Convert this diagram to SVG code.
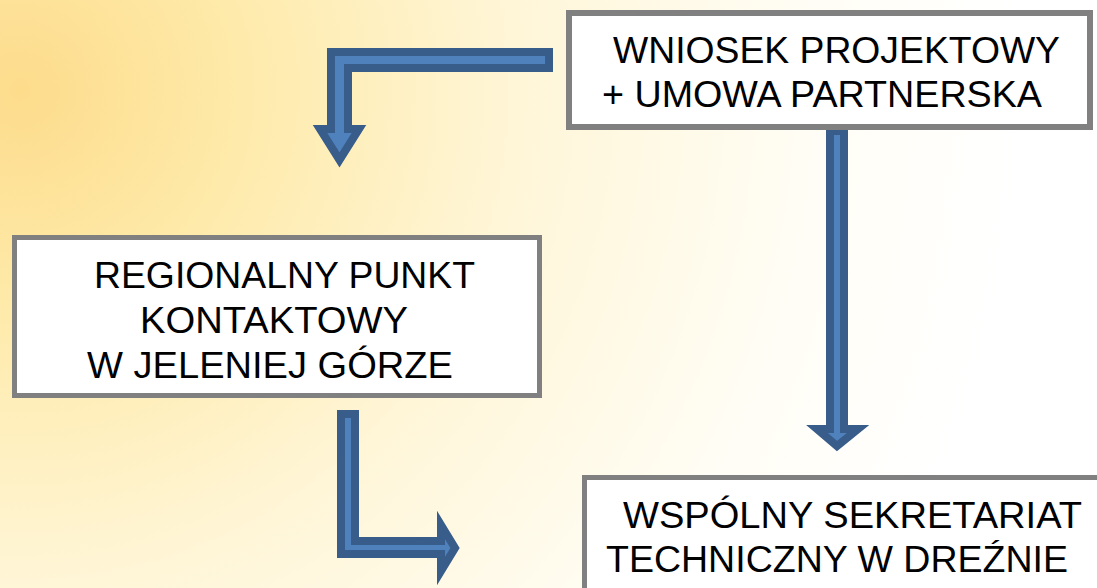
<svg xmlns="http://www.w3.org/2000/svg" width="1097" height="588" viewBox="0 0 1097 588">
  <defs>
    <radialGradient id="bg" cx="20" cy="90" r="1000" gradientUnits="userSpaceOnUse">
      <stop offset="0" stop-color="#fddc8c"/>
      <stop offset="0.22" stop-color="#feeaaa"/>
      <stop offset="0.5" stop-color="#fff6d8"/>
      <stop offset="0.78" stop-color="#fffdf4"/>
      <stop offset="1" stop-color="#ffffff"/>
    </radialGradient>
  </defs>
  <style>
    .box { fill: #ffffff; stroke: #808080; }
    .lbl { font-family: "Liberation Sans", Arial, sans-serif; font-size: 36px; fill: #000000; }
    .arr { fill: #4f81bd; stroke: #385d8a; stroke-width: 8; stroke-linejoin: miter; }
  </style>
  <rect x="0" y="0" width="1097" height="588" fill="url(#bg)"/>

  <g id="connectors">
    <path class="arr" d="M549,52 L331,52 L331,129 L320,129 L339.5,160 L359,129 L348,129 L348,68 L549,68 Z"/>
    <path class="arr" d="M830,131 L844,131 L844,429 L858,429 L837,446 L817,429 L830,429 Z"/>
    <path class="arr" d="M341,414 L355,414 L355,541 L441,541 L441,525 L455,548 L441,571 L441,554 L341,554 Z"/>
  </g>

  <g id="node-wniosek">
    <rect class="box" x="569" y="13" width="521" height="114" stroke-width="6"/>
    <text class="lbl" x="613" y="63" textLength="447" lengthAdjust="spacingAndGlyphs">WNIOSEK PROJEKTOWY</text>
    <text class="lbl" x="602" y="107" textLength="440" lengthAdjust="spacingAndGlyphs">+ UMOWA PARTNERSKA</text>
  </g>

  <g id="node-rpk">
    <rect class="box" x="14.5" y="237.5" width="525" height="158" stroke-width="5"/>
    <text class="lbl" x="94" y="288" textLength="381" lengthAdjust="spacingAndGlyphs">REGIONALNY PUNKT</text>
    <text class="lbl" x="140" y="333" textLength="268" lengthAdjust="spacingAndGlyphs">KONTAKTOWY</text>
    <text class="lbl" x="87" y="378" textLength="366" lengthAdjust="spacingAndGlyphs">W JELENIEJ GÓRZE</text>
  </g>

  <g id="node-wst">
    <rect class="box" x="584.5" y="477.5" width="520" height="120" stroke-width="5"/>
    <text class="lbl" x="623" y="528" textLength="459" lengthAdjust="spacingAndGlyphs">WSPÓLNY SEKRETARIAT</text>
    <text class="lbl" x="606" y="572" textLength="462" lengthAdjust="spacingAndGlyphs">TECHNICZNY W DREŹNIE</text>
  </g>
</svg>
